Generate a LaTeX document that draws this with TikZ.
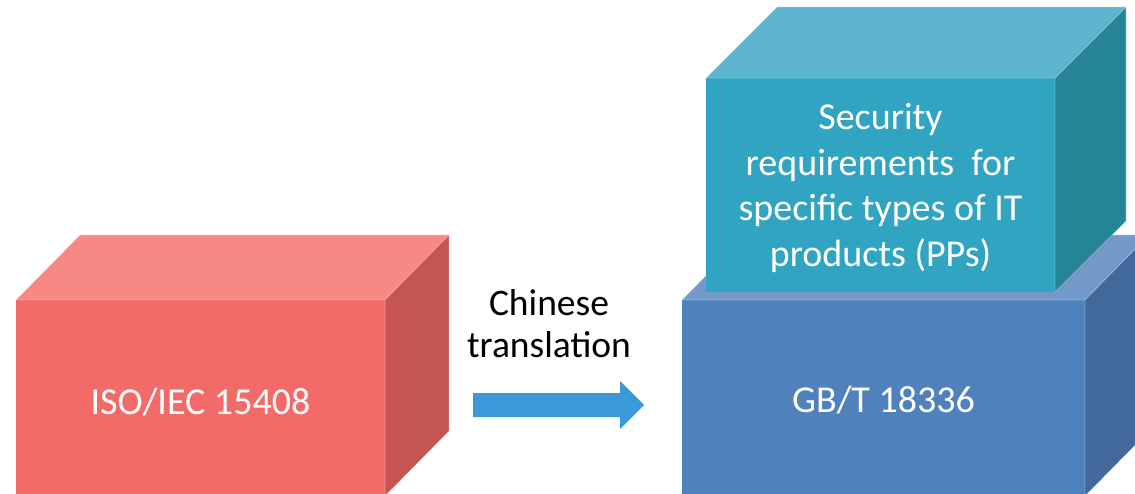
\documentclass[tikz,border=0pt]{standalone}
\usepackage{fontspec}
\setmainfont{Carlito}
\usetikzlibrary{calc}

\definecolor{redfront}{HTML}{F36B68}
\definecolor{redtop}{HTML}{F78884}
\definecolor{redside}{HTML}{C55552}
\definecolor{bluefront}{HTML}{4F81BD}
\definecolor{bluetop}{HTML}{7299C9}
\definecolor{blueside}{HTML}{41699B}
\definecolor{tealfront}{HTML}{31A4C1}
\definecolor{tealtop}{HTML}{5BB4CB}
\definecolor{tealside}{HTML}{268497}
\definecolor{arrowblue}{HTML}{3A9AD9}

\tikzset{
  frontface/.style={rectangle, inner sep=0pt, outer sep=0pt},
  facetext/.style={inner sep=0pt, text=white, font=\fontsize{38}{45.7}\selectfont, align=center},
  edge/.style={draw=white, draw opacity=0.3, line width=0.7pt, line join=miter},
  caption/.style={inner sep=0pt, text=black, font=\fontsize{37.5}{42}\selectfont, align=center},
}

\begin{document}
\begin{tikzpicture}[x=1pt,y=-1pt]
\useasboundingbox (0,0) rectangle (1135,494);
\begin{scope}
\clip (0,0) rectangle (1135,494);

% ISO/IEC 15408 block
\node[frontface, fill=redfront, minimum width=369pt, minimum height=196pt] (iso) at (200.5,398) {};
\filldraw[redtop, edge] (iso.north west) -- ++(64,-65) -- ($(iso.north east)+(64,-65)$) -- (iso.north east) -- cycle;
\filldraw[redside, edge] (iso.north east) -- ++(64,-65) -- ($(iso.south east)+(64,-65)$) -- (iso.south east) -- cycle;
\node[facetext] (isotext) at ([yshift=-4pt]iso.center) {ISO/IEC 15408};

% GB/T 18336 block
\node[frontface, fill=bluefront, minimum width=403pt, minimum height=196pt] (gbt) at (883.5,398) {};
\filldraw[bluetop, edge] (gbt.north west) -- ++(64,-65) -- ($(gbt.north east)+(64,-65)$) -- (gbt.north east) -- cycle;
\filldraw[blueside, edge] (gbt.north east) -- ++(64,-65) -- ($(gbt.south east)+(64,-65)$) -- (gbt.south east) -- cycle;
\node[facetext] (gbttext) at ([yshift=-2pt]gbt.center) {GB/T 18336};

% Protection profiles block on top
\node[frontface, fill=tealfront, minimum width=349pt, minimum height=214pt] (pp) at (880.5,185) {};
\filldraw[tealtop, edge] (pp.north west) -- ++(71,-71) -- ($(pp.north east)+(71,-71)$) -- (pp.north east) -- cycle;
\filldraw[tealside, edge] (pp.north east) -- ++(71,-71) -- ($(pp.south east)+(71,-71)$) -- (pp.south east) -- cycle;
\node[facetext] (pptext) at ([yshift=-3pt]pp.center)
  {Security\\requirements~ for\\specific types of IT\\products (PPs)};

% translation arrow
\path (iso.east) ++(88,7) coordinate (tail);
\path (gbt.west) ++(-38,7) coordinate (tip);
\fill[arrowblue] ($(tail)+(0,-12)$) -- ($(tip)+(-24,-12)$) -- ($(tip)+(-24,-24)$) -- (tip)
  -- ($(tip)+(-24,24)$) -- ($(tip)+(-24,12)$) -- ($(tail)+(0,12)$) -- cycle;
\node[caption] (lbl) at (549,324) {Chinese\\translation};
\end{scope}
\end{tikzpicture}
\end{document}
